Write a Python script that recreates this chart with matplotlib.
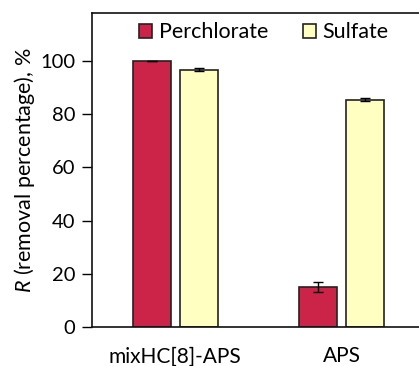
import matplotlib.pyplot as plt
import numpy as np

# data
categories = ['mixHC[8]-APS', 'APS']
perchlorate = [100.0, 15.0]
perchlorate_err = [0.1, 2.0]
sulfate = [96.7, 85.4]
sulfate_err = [0.5, 0.6]

plt.rcParams['font.family'] = ['Lato', 'DejaVu Sans']
plt.rcParams['mathtext.fontset'] = 'custom'
plt.rcParams['mathtext.it'] = 'Lato:italic'

fig = plt.figure(figsize=(4.19, 3.66), dpi=100)
# axes span x = -0.5..1.5; right part falls outside the figure like the original crop
ax = fig.add_axes([92 / 419, 39 / 366, 333 / 419, 314 / 366])

x = np.arange(len(categories))
w = 0.228
off = 0.141
red = '#CC2449'
yellow = '#FFFFC1'

ax.bar(x - off, perchlorate, width=w, color=red, edgecolor='#222222', linewidth=1.2,
       yerr=perchlorate_err, capsize=3.5, error_kw=dict(elinewidth=1, capthick=1, ecolor='black'),
       label='Perchlorate', zorder=2)
ax.bar(x + off, sulfate, width=w, color=yellow, edgecolor='#222222', linewidth=1.2,
       yerr=sulfate_err, capsize=3.5, error_kw=dict(elinewidth=1, capthick=1, ecolor='black'),
       label='Sulfate', zorder=2)

ax.set_xlim(-0.5, 1.5)
ax.set_ylim(0, 118)
ax.set_yticks([0, 20, 40, 60, 80, 100])
ax.set_xticks(x)
ax.set_xticklabels(categories, fontsize=15)
ax.tick_params(axis='x', length=0, pad=14)
ax.tick_params(axis='y', direction='out', length=7, width=1, labelsize=14.5, pad=5)

for s in ax.spines.values():
    s.set_linewidth(1.2)
    s.set_color('#111111')

ax.set_ylabel(r'$\it{R}$ (removal percentage), %', fontsize=15.5, labelpad=2)

leg = fig.legend(*ax.get_legend_handles_labels(), loc='center left',
                 bbox_to_anchor=(139 / 419, 1 - 32.5 / 366), ncol=2, frameon=False,
                 fontsize=15.5, handlelength=0.62, handleheight=0.62, handletextpad=0.3,
                 columnspacing=1.6, borderpad=0, borderaxespad=0)

fig.savefig('out.png', dpi=100)
